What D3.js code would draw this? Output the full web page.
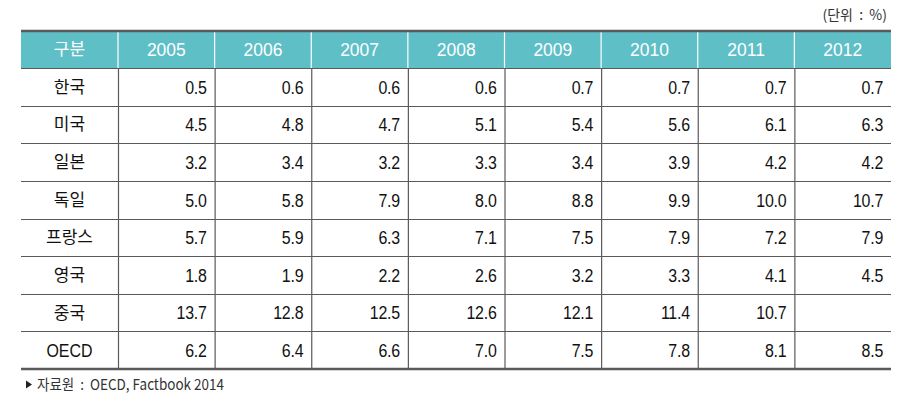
<!DOCTYPE html>
<html><head><meta charset="utf-8">
<script src="https://cdn.jsdelivr.net/npm/d3@7"></script>
<style>body{margin:0;background:#fff}svg{display:block}</style>
</head><body><svg id="c" width="907" height="412"></svg>
<script>
const years = ["2005","2006","2007","2008","2009","2010","2011","2012"];
const countries = ["한국","미국","일본","독일","프랑스","영국","중국","OECD"];
const korea   = [0.5,0.6,0.6,0.6,0.7,0.7,0.7,0.7];
const usa     = [4.5,4.8,4.7,5.1,5.4,5.6,6.1,6.3];
const japan   = [3.2,3.4,3.2,3.3,3.4,3.9,4.2,4.2];
const germany = [5.0,5.8,7.9,8.0,8.8,9.9,10.0,10.7];
const france  = [5.7,5.9,6.3,7.1,7.5,7.9,7.2,7.9];
const uk      = [1.8,1.9,2.2,2.6,3.2,3.3,4.1,4.5];
const china   = [13.7,12.8,12.5,12.6,12.1,11.4,10.7,null];
const oecd    = [6.2,6.4,6.6,7.0,7.5,7.8,8.1,8.5];
const headerLabel = "구분";
const unitLabel = "(단위  :  %)";
const sourceLabel = "자료원  :  OECD, Factbook 2014";

const rows = [korea,usa,japan,germany,france,uk,china,oecd];
const svg = d3.select("#c");
const L = 21, R = 891, firstW = 97, T = 31, HH = 37, B = 369;
const x = d3.scaleBand().domain(years).range([L+firstW, R]);
const y = d3.scaleBand().domain(countries).range([T+HH, B]);
const korFont = "'Noto Sans CJK KR','Noto Sans',sans-serif";
const numFont = "'Liberation Sans',Arial,sans-serif";
const lineC = "#5a5a5a";
const sx = 0.84;

svg.append("rect").attr("x",L).attr("y",T).attr("width",R-L).attr("height",HH).attr("fill","#5fbfc7");
svg.selectAll(".hv").data(years).enter().append("line")
  .attr("x1",d=>x(d)).attr("x2",d=>x(d)).attr("y1",T).attr("y2",T+HH)
  .attr("stroke","#fff").attr("stroke-width",1.2);
svg.selectAll(".bv").data(years).enter().append("line")
  .attr("x1",d=>x(d)+0.5).attr("x2",d=>x(d)+0.5).attr("y1",T+HH).attr("y2",B)
  .attr("stroke",lineC).attr("stroke-width",1.2);
svg.selectAll(".hl").data(countries).enter().append("line")
  .attr("x1",L).attr("x2",R).attr("y1",d=>Math.round(y(d))+0.5).attr("y2",d=>Math.round(y(d))+0.5)
  .attr("stroke",lineC).attr("stroke-width",1.2);
svg.append("line").attr("x1",L).attr("x2",R).attr("y1",T).attr("y2",T).attr("stroke",lineC).attr("stroke-width",2.5);
svg.append("line").attr("x1",L).attr("x2",R).attr("y1",B).attr("y2",B).attr("stroke",lineC).attr("stroke-width",2.5);

svg.append("text").attr("x",L+firstW/2).attr("y",T+HH/2).attr("dy","0.35em")
  .attr("text-anchor","middle").attr("fill","#fff").attr("font-family",korFont).attr("font-size",17).text(headerLabel);
svg.selectAll(".ht").data(years).enter().append("text")
  .attr("transform",d=>`translate(${x(d)+x.bandwidth()/2},${T+HH/2}) scale(0.92,1)`).attr("dy","0.36em")
  .attr("text-anchor","middle").attr("fill","#fff").attr("font-family",numFont)
  .attr("font-size",19).text(d=>d);

svg.selectAll(".rl").data(countries).enter().append("text")
  .attr("transform",d=>`translate(${L+firstW/2},${y(d)+y.bandwidth()/2})` + (d==="OECD"?` scale(${sx},1)`:""))
  .attr("dy","0.35em")
  .attr("text-anchor","middle").attr("fill","#111")
  .attr("font-family",d=>d==="OECD"?numFont:korFont).attr("font-size",d=>d==="OECD"?19:17).text(d=>d);

countries.forEach((c,i)=>{
  const cells = rows[i].map((v,j)=>({v, yr: years[j]})).filter(d=>d.v!==null);
  svg.selectAll(".v"+i).data(cells).enter().append("text")
    .attr("transform",d=>`translate(${x(d.yr)+x.bandwidth()-8},${y(c)+y.bandwidth()/2}) scale(${sx},1)`)
    .attr("dy","0.36em").attr("letter-spacing","-0.3")
    .attr("text-anchor","end").attr("fill","#111").attr("font-family",numFont)
    .attr("font-size",19).text(d=>d.v.toFixed(1));
});

svg.append("text").attr("x",887).attr("y",15).attr("dy","0.35em").attr("text-anchor","end")
  .attr("fill","#333").attr("font-family",korFont).attr("font-size",14)
  .style("white-space","pre").text(unitLabel);
svg.append("path").attr("d","M26,380.5 L32,384.5 L26,388.5 Z").attr("fill","#222");
svg.append("text").attr("transform","translate(37,385) scale(0.9,1)").attr("dy","0.35em")
  .attr("fill","#333").attr("font-family",korFont).attr("font-size",15).style("white-space","pre")
  .text(sourceLabel);
</script></body></html>
